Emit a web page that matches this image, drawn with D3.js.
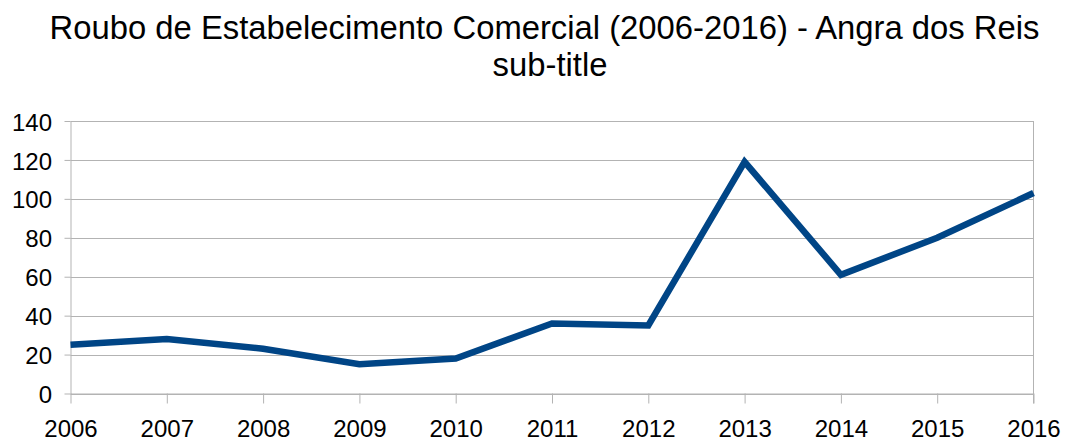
<!DOCTYPE html>
<html>
<head>
<meta charset="utf-8">
<script src="https://cdn.jsdelivr.net/npm/d3@7/dist/d3.min.js"></script>
<style>
  html, body { margin: 0; padding: 0; background: #fff; }
  svg { display: block; font-family: "Liberation Sans", Arial, sans-serif; }
</style>
</head>
<body>
<svg id="chart" width="1066" height="444"></svg>
<script>
// Roubo de Estabelecimento Comercial — Angra dos Reis, 2006-2016
const years = ["2006","2007","2008","2009","2010","2011","2012","2013","2014","2015","2016"];
const counts = [25, 28, 23, 15, 18, 36, 35, 119, 61, 80, 103];
const yTicks = [0, 20, 40, 60, 80, 100, 120, 140];
const titleText = "Roubo de Estabelecimento Comercial (2006-2016) - Angra dos Reis";
const subtitleText = "sub-title";

const svg = d3.select("#chart");
const margin = { left: 70.5, right: 1033.5, top: 121, bottom: 393.5 };

const x = d3.scalePoint().domain(years).range([margin.left, margin.right]);
const y = d3.scaleLinear().domain([0, 140]).range([margin.bottom, margin.top]);

// titles
svg.append("text").attr("x", 544.5).attr("y", 38.5)
  .attr("text-anchor", "middle").attr("font-size", 32.8).attr("fill", "#000")
  .text(titleText);
svg.append("text").attr("x", 550).attr("y", 75.7)
  .attr("text-anchor", "middle").attr("font-size", 32.8).attr("fill", "#000")
  .text(subtitleText);

// horizontal gridlines
svg.append("g").selectAll("line").data(yTicks).join("line")
  .attr("x1", margin.left).attr("x2", margin.right)
  .attr("y1", d => Math.round(y(d)) + 0.5).attr("y2", d => Math.round(y(d)) + 0.5)
  .attr("stroke", "#b3b3b3").attr("stroke-width", 1);

// y axis
const yAxis = svg.append("g").attr("transform", `translate(${margin.left},0)`)
  .call(d3.axisLeft(y).tickValues(yTicks).tickSize(6).tickPadding(12.5).tickSizeOuter(0));
yAxis.select(".domain").attr("stroke", "#b3b3b3");
yAxis.selectAll(".tick line").attr("stroke", "#b3b3b3");
yAxis.selectAll(".tick text").attr("font-size", 24).attr("fill", "#000").attr("dy", "0.38em")
  .attr("font-family", "Liberation Sans, Arial, sans-serif");

// x axis
const xAxis = svg.append("g").attr("transform", `translate(0,${margin.bottom})`)
  .call(d3.axisBottom(x).tickSize(10).tickPadding(16.5).tickSizeOuter(0));
xAxis.select(".domain").attr("stroke", "#b3b3b3");
xAxis.selectAll(".tick line").attr("stroke", "#b3b3b3");
xAxis.selectAll(".tick text").attr("font-size", 24).attr("fill", "#000")
  .attr("font-family", "Liberation Sans, Arial, sans-serif");

// right frame edge
svg.append("line")
  .attr("x1", margin.right).attr("x2", margin.right)
  .attr("y1", margin.top).attr("y2", margin.bottom + 10)
  .attr("stroke", "#b3b3b3");

// data line
const line = d3.line().x((d, i) => x(years[i])).y(d => y(d));
svg.append("path").datum(counts)
  .attr("d", line)
  .attr("fill", "none")
  .attr("stroke", "#004586")
  .attr("stroke-width", 6.5)
  .attr("stroke-linejoin", "miter");
</script>
</body>
</html>
